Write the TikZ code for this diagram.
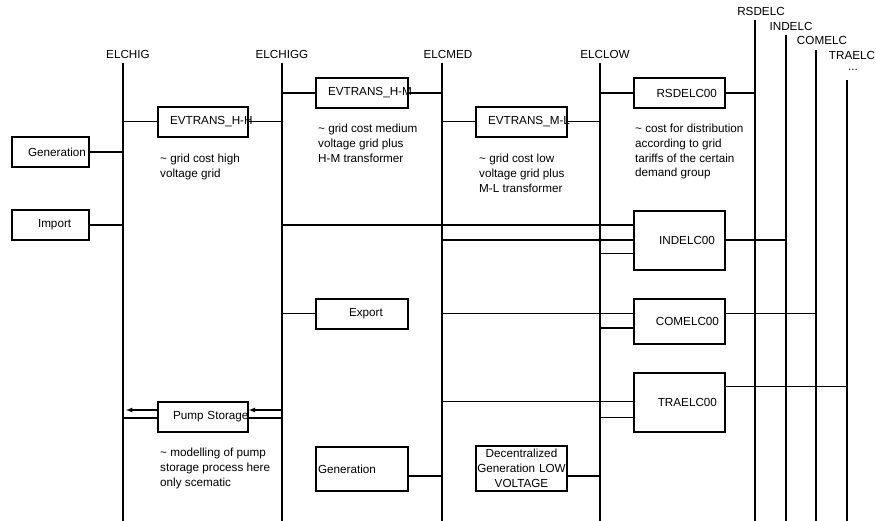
\documentclass[tikz,border=0pt]{standalone}
\usepackage{fontspec}
\setmainfont{Liberation Sans}

\begin{document}
\begin{tikzpicture}[
        x=1pt, y=-1pt,
        every node/.style={font=\fontsize{11.7}{14.7}\selectfont},
        caja/.style={draw, line width=1.6pt, minimum height=30pt, inner ysep=0pt},
        nota/.style={anchor=north west, align=left, inner sep=0pt},
        barra/.style={line width=1.4pt},
        fina/.style={line width=1pt},
        gruesa/.style={line width=2pt},
        flecha/.style={->, >=latex, line width=1.2pt}
    ]
        \useasboundingbox (0,0) rectangle (876,521);

        % buses
        \node (elchig) at (128,54) {ELCHIG};
        \node (elchigg) at (282,54) {ELCHIGG};
        \node (elcmed) at (448,54) {ELCMED};
        \node (elclow) at (605,54) {ELCLOW};
        \node (rsdelc) at (761,11) {RSDELC};
        \node (indelc) at (791,26) {INDELC};
        \node (comelc) at (822,40) {COMELC};
        \node (traelc) at (852,55) {TRAELC};
        \node (dots) at (853,70) {...};

        \coordinate (bhig) at (123,63);
        \coordinate (bhigg) at (282,63);
        \coordinate (bmed) at (442,63);
        \coordinate (blow) at (600,63);
        \coordinate (brsd) at (755,20);
        \coordinate (bind) at (786,35);
        \coordinate (bcom) at (816,50);
        \coordinate (btra) at (847,80);
        \coordinate (fondo) at (0,521);

        \draw[barra] (bhig) -- (bhig |- fondo);
        \draw[barra] (bhigg) -- (bhigg |- fondo);
        \draw[barra] (bmed) -- (bmed |- fondo);
        \draw[barra] (blow) -- (blow |- fondo);
        \draw[barra] (brsd) -- (brsd |- fondo);
        \draw[barra] (bind) -- (bind |- fondo);
        \draw[barra] (bcom) -- (bcom |- fondo);
        \draw[barra] (btra) -- (btra |- fondo);

        % processes
        \node[caja, text width=45pt, inner xsep=16pt, align=left] (gen) at (50.5,152) {\mbox{Generation}};
        \node[caja, text width=25pt, inner xsep=26pt, align=left] (imp) at (50.5,225) {\mbox{Import}};
        \node[caja, text width=66pt, inner xsep=12pt, align=left] (hh) at (203,122) {\mbox{EVTRANS\_H-H}};
        \node[caja, text width=60pt, inner xsep=15pt, align=left] (pump) at (203,417) {\mbox{Pump Storage}};
        \node[caja, text width=68pt, inner xsep=12pt, align=left] (hm) at (362,93) {\mbox{EVTRANS\_H-M}};
        \node[caja, text width=26pt, inner xsep=33pt, align=left] (exp) at (362,314) {\mbox{Export}};
        \node[caja, text width=88pt, inner xsep=2pt, align=left, minimum height=44pt] (genmed) at (362,469) {Generation};
        \node[caja, text width=67pt, inner xsep=12pt, align=left] (ml) at (521.5,122) {\mbox{EVTRANS\_M-L}};
        \node[caja, text width=89pt, inner xsep=1pt, align=center, minimum height=45pt] (dec) at (521.5,468.5) {Decentralized\\Generation LOW\\VOLTAGE};
        \node[caja, text width=75pt, inner xsep=8pt, align=right] (rsd00) at (679.5,93) {RSDELC00};
        \node[caja, text width=71pt, inner xsep=10pt, align=right, minimum height=59pt] (ind00) at (679.5,240.5) {INDELC00};
        \node[caja, text width=79pt, inner xsep=6pt, align=right, minimum height=45pt] (com00) at (679.5,321.5) {COMELC00};
        \node[caja, text width=75pt, inner xsep=8pt, align=right, minimum height=59pt] (tra00) at (679.5,402.5) {TRAELC00};

        % notes
        \node[nota] (n1) at (160,154) {\textasciitilde{} grid cost high\\voltage grid};
        \node[nota] (n2) at (318,124) {\textasciitilde{} grid cost medium\\voltage grid plus\\H-M transformer};
        \node[nota] (n3) at (479,154) {\textasciitilde{} grid cost low\\voltage grid plus\\M-L transformer};
        \node[nota] (n4) at (635,124) {\textasciitilde{} cost for distribution\\according to grid\\tariffs of the certain\\demand group};
        \node[nota] (n5) at (160,448) {\textasciitilde{} modelling of pump\\storage process here\\only scematic};

        % links
        \draw[gruesa] (gen.east) -- (bhig |- gen);
        \draw[gruesa] (imp.east) -- (bhig |- imp);
        \draw[fina] (bhig |- hh) -- (hh.west);
        \draw[fina] (hh.east) -- (bhigg |- hh);
        \draw[gruesa] (bhigg |- hm) -- (hm.west);
        \draw[gruesa] (hm.east) -- (bmed |- hm);
        \draw[fina] (bmed |- ml) -- (ml.west);
        \draw[fina] (ml.east) -- (blow |- ml);
        \draw[gruesa] (blow |- rsd00) -- (rsd00.west);
        \draw[gruesa] (rsd00.east) -- (brsd |- rsd00);

        \draw[gruesa] (bhigg |- 0,225) -- (ind00.west |- 0,225);
        \draw[gruesa] (bmed |- 0,240) -- (ind00.west |- 0,240);
        \draw[fina] (blow |- 0,254) -- (ind00.west |- 0,254);
        \draw[gruesa] (ind00.east |- 0,240) -- (bind |- 0,240);

        \draw[fina] (bhigg |- exp) -- (exp.west);
        \draw[fina] (bmed |- 0,314) -- (com00.west |- 0,314);
        \draw[gruesa] (blow |- 0,328) -- (com00.west |- 0,328);
        \draw[fina] (com00.east |- 0,314) -- (bcom |- 0,314);

        \draw[fina] (bmed |- 0,402) -- (tra00.west |- 0,402);
        \draw[fina] (blow |- 0,417) -- (tra00.west |- 0,417);
        \draw[fina] (tra00.east |- 0,387) -- (btra |- 0,387);

        \draw[flecha, shorten >=3pt] (pump.west |- 0,410) -- (bhig |- 0,410);
        \draw[flecha] (bhigg |- 0,410) -- (pump.east |- 0,410);
        \draw[gruesa] (bhig |- 0,418) -- (pump.west |- 0,418);
        \draw[gruesa] (pump.east |- 0,418) -- (bhigg |- 0,418);

        \draw[gruesa] (genmed.east |- 0,476) -- (bmed |- 0,476);
        \draw[gruesa] (dec.east |- 0,476) -- (blow |- 0,476);
    \end{tikzpicture}
\end{document}
